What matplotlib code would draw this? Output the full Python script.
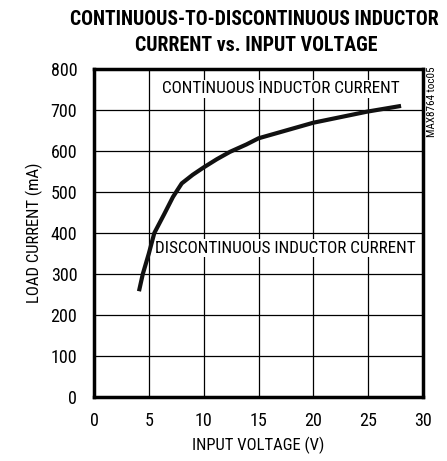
import matplotlib.pyplot as plt

# boundary curve
vin = [4.1, 4.45, 5.0, 5.5, 6.4, 7.2, 8.0, 9.0, 10.0, 11.2, 12.4, 13.9, 15.0, 20.0, 24.9, 28.0]
iload = [258, 300, 350, 400, 446, 488, 521, 542, 560, 580, 598, 616, 631, 669, 696, 710]

xticks = [0, 5, 10, 15, 20, 25, 30]
yticks = [0, 100, 200, 300, 400, 500, 600, 700, 800]

plt.rcParams['font.family'] = ['Roboto Condensed', 'DejaVu Sans']

fig = plt.figure(figsize=(4.47, 4.61), dpi=100)
ax = fig.add_axes([0.2103, 0.1388, 0.736, 0.7115])

ax.plot(vin, iload, color='#111111', lw=3, zorder=4, solid_capstyle='butt')

ax.set_xlim(0, 30)
ax.set_ylim(0, 800)
ax.set_xticks(xticks)
ax.set_yticks(yticks)
ax.tick_params(axis='y', length=0, labelsize=13, pad=12)
ax.tick_params(axis='x', length=0, labelsize=13, pad=11)
ax.grid(True, color='black', lw=0.9)
ax.set_axisbelow(True)
for s in ax.spines.values():
    s.set_linewidth(2.5)

ax.set_xlabel('INPUT VOLTAGE (V)', fontsize=12, va='center')
ax.set_ylabel('LOAD CURRENT (mA)', fontsize=12, va='center')
ax.xaxis.set_label_coords(0.5, -0.146)
ax.yaxis.set_label_coords(-0.18, 0.5)

box = dict(facecolor='white', edgecolor='none', pad=1)
ax.text(17.0, 752, 'CONTINUOUS INDUCTOR CURRENT', ha='center', va='center',
        fontsize=12.3, bbox=box, zorder=3)
ax.text(17.4, 363, 'DISCONTINUOUS INDUCTOR CURRENT', ha='center', va='center',
        fontsize=12.3, bbox=box, zorder=3)

fig.text(0.568, 0.957, 'CONTINUOUS-TO-DISCONTINUOUS INDUCTOR',
         ha='center', va='center', fontsize=14.1, fontweight='heavy')
fig.text(0.574, 0.902, 'CURRENT vs. INPUT VOLTAGE',
         ha='center', va='center', fontsize=14.3, fontweight='heavy')
fig.text(0.967, 0.78, 'MAX8764 toc05', rotation=90, ha='center', va='center',
         fontsize=8)

fig.savefig('out.png', dpi=100)
